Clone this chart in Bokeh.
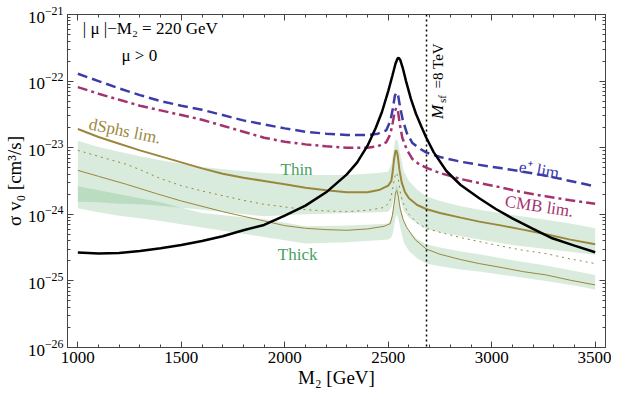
import numpy as np
from bokeh.plotting import figure
from bokeh.models import (Range1d, LinearAxis, Label, SingleIntervalTicker,
                          LogTicker, Span, CustomJSTickFormatter)
from bokeh.embed import file_html
from bokeh.resources import INLINE

# ---------------- data (log10 of sigma v in cm^3/s) ----------------
black_m = [1000, 1100, 1200, 1300, 1400, 1500, 1600, 1700, 1800, 1900, 2000, 2100, 2200,
           2300, 2350, 2400, 2440, 2470, 2500, 2520, 2535, 2545, 2550, 2558, 2570, 2586,
           2610, 2634, 2660, 2684, 2720, 2781, 2850, 2940, 3020, 3100, 3200, 3293, 3400, 3500]
black_log = [-24.575, -24.59, -24.58, -24.55, -24.51, -24.46, -24.40, -24.33, -24.24,
             -24.16, -24.02, -23.87, -23.67, -23.40, -23.22, -22.97, -22.70, -22.46,
             -22.15, -21.92, -21.74, -21.66, -21.65, -21.68, -21.80, -22.0, -22.27,
             -22.49, -22.68, -22.85, -23.07, -23.35, -23.56, -23.76, -23.92, -24.06,
             -24.22, -24.36, -24.47, -24.57]

ep_m = [1000, 1100, 1200, 1300, 1400, 1500, 1600, 1700, 1800, 1900, 2000, 2100, 2200,
        2300, 2400, 2450, 2490, 2510, 2522, 2532, 2540, 2548, 2558, 2570, 2590, 2617,
        2650, 2683, 2750, 2850, 2925, 3050, 3150, 3244, 3350, 3500]
ep_log = [-21.89, -22.0, -22.11, -22.21, -22.30, -22.37, -22.43, -22.51, -22.59, -22.65,
          -22.71, -22.76, -22.79, -22.81, -22.81, -22.79, -22.74, -22.60, -22.42, -22.22,
          -22.17, -22.22, -22.40, -22.58, -22.78, -22.93, -23.01, -23.07, -23.14, -23.21,
          -23.25, -23.31, -23.36, -23.41, -23.48, -23.58]

cmb_m = [1000, 1100, 1200, 1300, 1400, 1500, 1600, 1700, 1800, 1900, 2000, 2100, 2200,
         2300, 2400, 2450, 2490, 2510, 2522, 2532, 2540, 2547, 2556, 2568, 2590, 2617,
         2650, 2683, 2750, 2850, 2940, 3050, 3150, 3262, 3380, 3500]
cmb_log = [-22.09, -22.19, -22.28, -22.37, -22.44, -22.51, -22.58, -22.67, -22.76, -22.85,
           -22.91, -22.95, -22.98, -23.0, -23.0, -22.98, -22.92, -22.80, -22.62, -22.45,
           -22.40, -22.45, -22.65, -22.85, -23.03, -23.17, -23.25, -23.30, -23.38, -23.47,
           -23.53, -23.60, -23.67, -23.73, -23.79, -23.84]

ds_m = [1000, 1100, 1200, 1300, 1400, 1500, 1600, 1700, 1800, 1900, 2000, 2100, 2200,
        2300, 2400, 2460, 2500, 2515, 2522, 2528, 2535, 2540, 2546, 2554, 2565, 2580,
        2600, 2640, 2683, 2750, 2850, 2940, 3050, 3150, 3262, 3380, 3500]
ds_log = [-22.72, -22.84, -22.94, -23.04, -23.13, -23.22, -23.31, -23.39, -23.45, -23.50,
          -23.55, -23.60, -23.64, -23.67, -23.67, -23.63, -23.57, -23.50, -23.35, -23.18,
          -23.05, -23.04, -23.12, -23.33, -23.52, -23.66, -23.76, -23.86, -23.92, -23.98,
          -24.05, -24.11, -24.17, -24.23, -24.30, -24.38, -24.45]

dot_m = [1000, 1100, 1236, 1300, 1396, 1500, 1600, 1700, 1800, 1900, 2000, 2100, 2200,
         2300, 2400, 2475, 2505, 2515, 2525, 2535, 2541, 2548, 2557, 2570, 2600, 2640,
         2683, 2750, 2850, 2940, 3050, 3150, 3262, 3380, 3500]
dot_log = [-23.04, -23.13, -23.25, -23.33, -23.46, -23.57, -23.65, -23.72, -23.79, -23.85,
           -23.89, -23.93, -23.95, -23.96, -23.94, -23.90, -23.83, -23.72, -23.55, -23.39,
           -23.38, -23.46, -23.65, -23.82, -24.0, -24.13, -24.21, -24.27, -24.35, -24.41,
           -24.48, -24.54, -24.59, -24.67, -24.74]

thin_m = [1000, 1100, 1235, 1380, 1500, 1600, 1700, 1800, 1900, 2000, 2100, 2200, 2300,
          2400, 2480, 2510, 2520, 2528, 2535, 2541, 2548, 2558, 2572, 2590, 2630, 2683,
          2750, 2850, 2940, 3050, 3150, 3262, 3380, 3500]
thin_log = [-23.34, -23.43, -23.55, -23.69, -23.80, -23.88, -23.96, -24.03, -24.10, -24.17,
            -24.21, -24.23, -24.24, -24.22, -24.18, -24.14, -24.02, -23.85, -23.68, -23.64,
            -23.72, -23.92, -24.08, -24.20, -24.38, -24.52, -24.60, -24.68, -24.74, -24.80,
            -24.86, -24.91, -24.99, -25.06]

band_m = [1000, 1100, 1200, 1300, 1400, 1500, 1600, 1750, 1900, 2100, 2300, 2450, 2500,
          2515, 2525, 2533, 2540, 2548, 2558, 2575, 2600, 2640, 2683, 2750, 2850, 2940,
          3100, 3262, 3400, 3500]
thinband_up = [-22.90, -22.99, -23.06, -23.13, -23.19, -23.24, -23.29, -23.34, -23.38,
               -23.41, -23.41, -23.38, -23.36, -23.25, -23.05, -22.90, -22.87, -22.92,
               -23.10, -23.35, -23.50, -23.63, -23.73, -23.80, -23.88, -23.93, -24.01,
               -24.08, -24.15, -24.21]
thinband_lo = [-23.81, -23.82, -23.84, -23.85, -23.87, -23.90, -23.93, -23.98, -24.03,
               -24.0, -23.98, -23.97, -23.96, -23.90, -23.78, -23.65, -23.62, -23.66,
               -23.78, -23.95, -24.05, -24.14, -24.22, -24.27, -24.33, -24.38, -24.46,
               -24.52, -24.57, -24.61]
thickband_up = [-23.58, -23.64, -23.70, -23.76, -23.82, -23.90, -23.98, -24.03, -24.07,
                -24.18, -24.17, -24.15, -24.14, -24.05, -23.90, -23.65, -23.55, -23.62,
                -23.85, -24.10, -24.25, -24.37, -24.45, -24.50, -24.56, -24.60, -24.69,
                -24.77, -24.85, -24.91]
thickband_lo = [-23.91, -23.97, -24.02, -24.06, -24.10, -24.15, -24.20, -24.27, -24.34,
                -24.44, -24.42, -24.39, -24.38, -24.35, -24.25, -24.08, -24.0, -24.06,
                -24.2, -24.42, -24.55, -24.66, -24.74, -24.78, -24.83, -24.86, -24.93,
                -25.0, -25.07, -25.13]

msf_line = 2685

def v(a):
    return 10.0 ** np.array(a)

SERIF = "Liberation Serif"
GOLD = "#9b873c"
BLUE = "#3c3ca8"
PURPLE = "#a3336f"
GREEN_FILL = "#5aaa6e"
GREEN_TXT = "#4a9f62"
FRAME = "#444444"

p = figure(frame_width=538, frame_height=333,
           x_range=Range1d(950, 3550), y_range=Range1d(1e-26, 1e-21),
           y_axis_type="log", output_backend="svg", toolbar_location=None,
           min_border_left=58, min_border_right=6, min_border_top=14,
           min_border_bottom=40)
p.grid.visible = False
p.outline_line_color = FRAME
p.background_fill_color = "white"
p.border_fill_color = "white"

# bands
p.varea(x=band_m, y1=v(thinband_lo), y2=v(thinband_up), fill_color=GREEN_FILL, fill_alpha=0.24)
p.varea(x=band_m, y1=v(thickband_lo), y2=v(thickband_up), fill_color=GREEN_FILL, fill_alpha=0.24)

# lines
p.line(thin_m, v(thin_log), line_color=GOLD, line_width=1)
p.line(dot_m, v(dot_log), line_color=GOLD, line_width=1, line_dash="2 4")
p.line(ds_m, v(ds_log), line_color=GOLD, line_width=2)
p.line(cmb_m, v(cmb_log), line_color=PURPLE, line_width=2.5, line_dash="10 4 3 4")
p.line(ep_m, v(ep_log), line_color=BLUE, line_width=2.5, line_dash="10 5")
p.line(black_m, v(black_log), line_color="black", line_width=2.5)

p.add_layout(Span(location=msf_line, dimension="height", line_color="black",
                  line_width=1.5, line_dash="2 3"))

# axes
def style_axis(ax, labels=True):
    ax.axis_line_color = FRAME
    ax.major_tick_line_color = FRAME
    ax.minor_tick_line_color = FRAME
    ax.major_tick_in = 6
    ax.major_tick_out = 0
    ax.minor_tick_in = 3
    ax.minor_tick_out = 0
    ax.major_label_text_font = SERIF
    ax.major_label_text_font_size = "17px"
    ax.major_label_text_color = "black"
    ax.axis_label_text_font = SERIF
    ax.axis_label_text_font_size = "19px"
    ax.axis_label_text_font_style = "normal"
    ax.axis_label_text_color = "black"
    if not labels:
        ax.formatter = CustomJSTickFormatter(code="return ' '")
        ax.major_label_text_font_size = "2px"
        ax.major_label_text_alpha = 0
        ax.major_label_standoff = 0

p.xaxis.ticker = SingleIntervalTicker(interval=500, num_minor_ticks=5)
p.xaxis.axis_label = "M₂ [GeV]"
p.xaxis.major_label_standoff = 4
p.xaxis.axis_label_standoff = 1
style_axis(p.xaxis[0])

p.yaxis.ticker = LogTicker(num_minor_ticks=10)
p.yaxis.axis_label = "σ v₀ [cm³/s]"
p.yaxis.major_label_standoff = 4
p.yaxis.axis_label_standoff = 0
style_axis(p.yaxis[0])

top = LinearAxis(ticker=SingleIntervalTicker(interval=500, num_minor_ticks=5))
style_axis(top, labels=False)
p.add_layout(top, "above")
right = LinearAxis(ticker=LogTicker(num_minor_ticks=10))
style_axis(right, labels=False)
p.add_layout(right, "right")

# annotations
def lab(x, y, text, color="black", size="17px", angle=0.0, align="left",
        baseline="middle", style="normal"):
    p.add_layout(Label(x=x, y=y, text=text, text_color=color, text_font=SERIF,
                       text_font_size=size, angle=angle, text_align=align,
                       text_baseline=baseline, text_font_style=style))

lab(1024, 10 ** -21.21, "| μ |−M₂ = 220 GeV")
lab(1211, 10 ** -21.62, "μ > 0")
lab(1227, 10 ** -22.75, "dSphs lim.", color=GOLD, angle=-0.2, align="center")
lab(2057, 10 ** -23.32, "Thin", color=GREEN_TXT, align="center")
lab(2062, 10 ** -24.60, "Thick", color=GREEN_TXT, align="center")
lab(3239, 10 ** -23.34, "e⁺ lim.", color=BLUE, angle=-0.17, align="center")
lab(3230, 10 ** -23.88, "CMB lim.", color=PURPLE, angle=-0.15, align="center")
lab(2740, 10 ** -22.57, "M", size="17px", angle=np.pi / 2, style="italic")
lab(2758, 10 ** -22.33, "sf", size="11px", angle=np.pi / 2)
lab(2740, 10 ** -22.11, "=8 TeV", size="15px", angle=np.pi / 2)

open("out.html", "w").write(file_html(p, INLINE))
